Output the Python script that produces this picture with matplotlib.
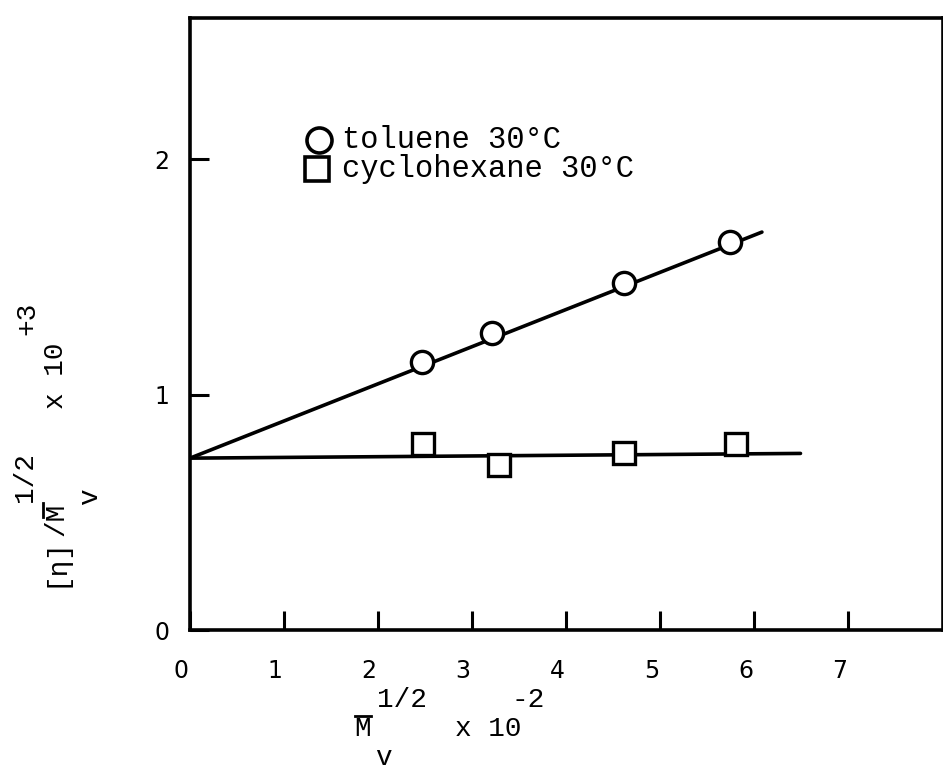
import numpy as np
import matplotlib.pyplot as plt
from matplotlib.lines import Line2D
from matplotlib.transforms import ScaledTranslation

# intrinsic viscosity data, Mv^1/2 x 10^-2 vs [eta]/Mv^1/2 x 10^3
tol_x = [2.47, 3.21, 4.61, 5.74]
tol_y = [1.14, 1.26, 1.475, 1.65]
tol_fit_x = [0.0, 6.08]
tol_fit_y = [0.73, 1.69]

cyc_x = [2.48, 3.29, 4.61, 5.80]
cyc_y = [0.79, 0.70, 0.75, 0.79]
cyc_fit_x = [0.0, 6.49]
cyc_fit_y = [0.73, 0.75]

xticks = [0, 1, 2, 3, 4, 5, 6, 7]
yticks = [0, 1, 2]

W, H = 943, 774
fig = plt.figure(figsize=(W / 100, H / 100), dpi=100)
ax = fig.add_axes([0.2015, 0.186, 0.798, 0.791])

ax.plot(tol_fit_x, tol_fit_y, color='black', lw=2.6, solid_capstyle='round')
ax.plot(cyc_fit_x, cyc_fit_y, color='black', lw=2.6, solid_capstyle='round')
ax.plot(tol_x, tol_y, 'o', ms=16, mfc='white', mec='black', mew=2.4, zorder=3)
ax.plot(cyc_x, cyc_y, 's', ms=16, mfc='white', mec='black', mew=2.4, zorder=3)

ax.set_xlim(0, 8)
ax.set_ylim(0, 2.6)
ax.set_xticks(xticks)
ax.set_yticks(yticks)
ax.tick_params(direction='in', length=14, width=2.2, labelsize=17)
ax.tick_params(axis='x', pad=21)
ax.tick_params(axis='y', pad=15)
for lab in ax.get_xticklabels():
    lab.set_transform(lab.get_transform() +
                      ScaledTranslation(-0.09, 0, fig.dpi_scale_trans))
for s in ax.spines.values():
    s.set_linewidth(2.6)

# legend drawn by hand
mono = 'Liberation Mono'
ax.plot([1.37], [2.08], 'o', ms=18, mfc='white', mec='black', mew=2.6)
ax.plot([1.35], [1.96], 's', ms=17, mfc='white', mec='black', mew=2.6)
ax.text(1.62, 2.08, 'toluene 30°C', family=mono, fontsize=22, va='center')
ax.text(1.62, 1.96, 'cyclohexane 30°C', family=mono, fontsize=22, va='center')


def ft(x, y, s, rot=0, size=20):
    fig.text(x / W, 1 - y / H, s, family=mono, ha='center', va='center',
             rotation=rot, fontsize=size)


def bar(x0, y0, x1, y1):
    fig.add_artist(Line2D([x0 / W, x1 / W], [1 - y0 / H, 1 - y1 / H],
                          color='black', lw=2))


# x axis label
ft(363, 729, 'M')
bar(355, 716, 371, 716)
ft(402, 700, '1/2')
ft(488, 729, 'x 10')
ft(528, 700, '-2')
ft(383, 758, 'v')

# y axis label
ft(56, 562, '[η]', rot=90)
ft(56, 519, '/M', rot=90)
bar(43, 503, 43, 517)
ft(25, 477, '1/2', rot=90)
ft(90, 497, 'v', rot=90)
ft(56, 376, 'x 10', rot=90)
ft(27, 318, '+3', rot=90)

fig.savefig('out.png', dpi=100)
